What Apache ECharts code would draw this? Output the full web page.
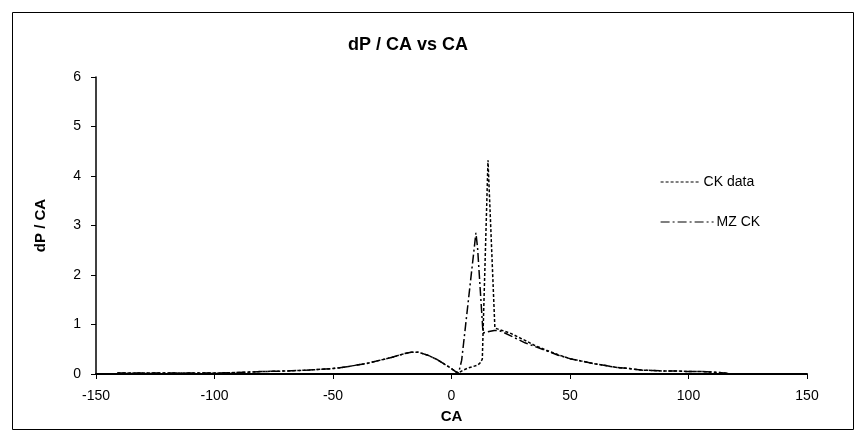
<!DOCTYPE html>
<html>
<head>
<meta charset="utf-8">
<script src="https://cdn.jsdelivr.net/npm/echarts@6/dist/echarts.min.js"></script>
<style>
  html, body { margin: 0; padding: 0; background: #fff; }
  #chart { width: 861px; height: 437px; }
</style>
</head>
<body>
<div id="chart"></div>
<script>
// Crank angle (deg) and pressure-rise rate for the measured CK run
const ckAngle = [-141, -130, -120, -110, -100, -90, -80, -70, -60, -50, -45, -40, -35, -30, -25, -20, -17, -14, -10, -6, -3, 0, 2, 3, 5, 7, 9, 11, 12, 13, 15.4, 18.3, 20, 22, 25, 28, 31, 35, 40, 45, 50, 55, 60, 65, 70, 75, 80, 85, 90, 95, 100, 105, 110, 115, 117];
const ckData  = [0.02, 0.02, 0.02, 0.02, 0.02, 0.03, 0.05, 0.06, 0.08, 0.11, 0.14, 0.18, 0.22, 0.28, 0.34, 0.41, 0.44, 0.44, 0.38, 0.29, 0.2, 0.11, 0.04, 0.02, 0.08, 0.12, 0.15, 0.18, 0.22, 0.3, 4.32, 0.93, 0.9, 0.87, 0.82, 0.75, 0.68, 0.58, 0.48, 0.39, 0.31, 0.26, 0.21, 0.17, 0.13, 0.11, 0.08, 0.07, 0.06, 0.06, 0.05, 0.05, 0.04, 0.02, 0.01];

// Crank angle (deg) and pressure-rise rate for the MZ CK model
const mzAngle = [-141, -130, -120, -110, -100, -90, -80, -70, -60, -50, -45, -40, -35, -30, -25, -20, -17, -14, -10, -6, -3, 0, 2, 3, 4.3, 10.3, 11, 13.3, 15, 18, 20, 22, 25, 28, 31, 35, 40, 45, 50, 55, 60, 65, 70, 75, 80, 85, 90, 95, 100, 105, 110, 115, 117];
const mzData  = [0.02, 0.02, 0.02, 0.02, 0.02, 0.03, 0.05, 0.06, 0.08, 0.11, 0.14, 0.18, 0.22, 0.28, 0.34, 0.41, 0.44, 0.44, 0.38, 0.29, 0.2, 0.11, 0.04, 0.02, 0.28, 2.85, 2.55, 0.83, 0.85, 0.88, 0.88, 0.84, 0.77, 0.7, 0.63, 0.56, 0.47, 0.38, 0.31, 0.26, 0.21, 0.17, 0.13, 0.11, 0.08, 0.07, 0.06, 0.06, 0.05, 0.05, 0.04, 0.02, 0.01];

const xTicks = { min: -150, max: 150, step: 50 };
const yTicks = { min: 0, max: 6, step: 1 };

const FONT = "'Liberation Sans', Arial, sans-serif";
const pairs = (xs, ys) => xs.map((x, i) => [x, ys[i]]);

const chart = echarts.init(document.getElementById('chart'), null, { renderer: 'canvas' });

const legendBase = {
  itemHeight: 12,
  itemGap: 4,
  itemStyle: { opacity: 0 },
  lineStyle: { width: 1.2 },
  textStyle: { fontFamily: FONT, fontSize: 14, color: '#000', padding: [0, 0, 0, -2] }
};

chart.setOption({
  animation: false,
  backgroundColor: '#fff',
  title: {
    text: 'dP / CA vs CA',
    left: 348,
    top: 36,
    padding: 0,
    textStyle: { fontFamily: FONT, fontSize: 18, fontWeight: 'bold', color: '#000' }
  },
  legend: [
    Object.assign({}, legendBase, { data: ['CK data'], left: 655, top: 170, itemWidth: 40 }),
    Object.assign({}, legendBase, { data: ['MZ CK'], left: 655, top: 210, itemWidth: 53 })
  ],
  grid: { left: 96, top: 77, width: 711, height: 297, containLabel: false },
  xAxis: {
    type: 'value',
    min: xTicks.min,
    max: xTicks.max,
    interval: xTicks.step,
    name: 'CA',
    nameLocation: 'middle',
    nameGap: 35,
    nameTextStyle: { fontFamily: FONT, fontSize: 15, fontWeight: 'bold', color: '#000' },
    axisLine: { onZero: false, lineStyle: { color: '#000', width: 2 } },
    axisTick: { show: true, inside: false, length: 5, lineStyle: { color: '#000', width: 1 } },
    axisLabel: { fontFamily: FONT, fontSize: 14, color: '#000', margin: 15 },
    splitLine: { show: false }
  },
  yAxis: {
    type: 'value',
    min: yTicks.min,
    max: yTicks.max,
    interval: yTicks.step,
    name: 'dP / CA',
    nameLocation: 'middle',
    nameGap: 48,
    nameRotate: 90,
    nameTextStyle: { fontFamily: FONT, fontSize: 15, fontWeight: 'bold', color: '#000' },
    axisLine: { show: true, onZero: false, lineStyle: { color: '#000', width: 1.5 } },
    axisTick: { show: true, inside: false, length: 5, lineStyle: { color: '#000', width: 1 } },
    axisLabel: { fontFamily: FONT, fontSize: 14, color: '#000', margin: 15 },
    splitLine: { show: false }
  },
  graphic: [
    {
      type: 'rect',
      left: 10,
      top: 10,
      shape: { width: 841, height: 417 },
      style: { fill: 'none', stroke: '#000', lineWidth: 1 },
      silent: true,
      z: -1
    }
  ],
  series: [
    {
      name: 'CK data',
      type: 'line',
      data: pairs(ckAngle, ckData),
      symbol: 'none',
      showSymbol: false,
      lineStyle: { color: '#000', width: 1.5, type: [3, 2] },
      itemStyle: { color: '#000' },
      z: 3
    },
    {
      name: 'MZ CK',
      type: 'line',
      data: pairs(mzAngle, mzData),
      symbol: 'none',
      showSymbol: false,
      lineStyle: { color: '#000', width: 1.5, type: [9, 3, 2, 3] },
      itemStyle: { color: '#000' },
      z: 2
    }
  ]
});
</script>
</body>
</html>
